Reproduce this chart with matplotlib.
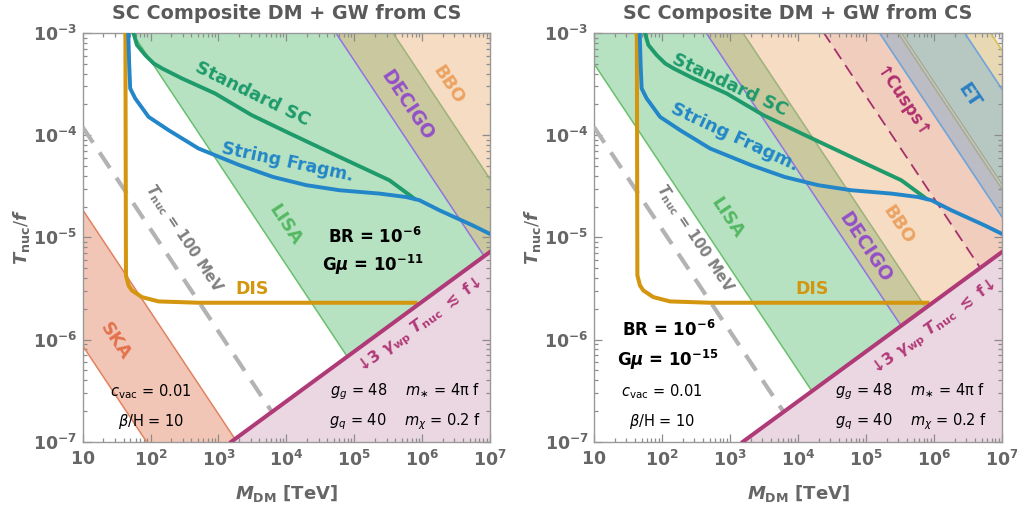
import numpy as np
import matplotlib
matplotlib.use("Agg")
import matplotlib.pyplot as plt
from matplotlib.ticker import FixedLocator, FixedFormatter, LogLocator, NullFormatter

plt.rcParams.update({
    "font.family": ["DejaVu Sans"],
    "mathtext.fontset": "custom",
    "mathtext.rm": "DejaVu Sans",
    "mathtext.it": "DejaVu Sans:italic:bold",
    "mathtext.bf": "DejaVu Sans:bold",
    "mathtext.sf": "DejaVu Sans:italic",
    "mathtext.default": "bf",
})

# ---------------- data ----------------
mass_ticks = [1e1, 1e2, 1e3, 1e4, 1e5, 1e6, 1e7]
mass_tick_labels = [r"$10$", r"$10^{2}$", r"$10^{3}$", r"$10^{4}$", r"$10^{5}$", r"$10^{6}$", r"$10^{7}$"]
temp_ticks = [1e-7, 1e-6, 1e-5, 1e-4, 1e-3]
temp_tick_labels = [r"$10^{-7}$", r"$10^{-6}$", r"$10^{-5}$", r"$10^{-4}$", r"$10^{-3}$"]

# relic-abundance curves: M_DM [TeV] vs T_nuc/f
string_M = [47, 48.4, 50.1, 59.4, 93.5, 184, 508, 2056, 6353, 1.97e4, 6.08e4, 2.36e5, 5.82e5, 9.12e5, 1.80e6, 5.54e6, 1.0e7]
string_T = [1e-3, 5.04e-4, 2.87e-4, 2.29e-4, 1.51e-4, 1.12e-4, 7.41e-5, 5.08e-5, 3.90e-5, 3.24e-5, 2.89e-5, 2.68e-5, 2.48e-5, 2.31e-5, 1.84e-5, 1.31e-5, 1.08e-5]
standard_M = [56, 63, 83.4, 111, 147, 288, 891, 3090, 1.12e4, 6.08e4, 3.30e5, 7.7e5]
standard_T = [1e-3, 7.63e-4, 6.08e-4, 5.04e-4, 4.51e-4, 3.60e-4, 2.56e-4, 1.57e-4, 1.04e-4, 6.12e-5, 3.62e-5, 2.39e-5]
dis_M = [42.6, 43.4, 47.4, 53.1, 74.5, 131, 508, 8.0e5]
dis_T = [1e-3, 4.24e-6, 3.38e-6, 3.02e-6, 2.60e-6, 2.36e-6, 2.29e-6, 2.29e-6]

# bound 3 gamma_wp T_nuc <~ f
wall_M = [1.55e3, 1e7]
wall_T = [1e-7, 7.2e-6]

# T_nuc = 100 MeV, as M_DM * T_nuc/f [TeV]
tnuc100_MT = 1.2e-3

# GW sensitivity bands, edges given as M_DM * T_nuc/f [TeV]
left_fills = [  # (lower edge, upper edge, colour)
    (8.7e-6, 1.86e-4, "#f2c6b6"),   # SKA
    (0.0537, 53.7, "#b6e2c2"),      # LISA
    (53.7, 372.0, "#cac89e"),       # DECIGO
    (372.0, np.inf, "#f6dcc2"),     # BBO
]
left_edges = [  # (edge, colour, width, style)
    (8.7e-6, "#e2825e", 1.1, "-"),
    (1.86e-4, "#e2825e", 1.1, "-"),
    (0.0537, "#6abf6e", 1.1, "-"),
    (53.7, "#9272e0", 1.1, "-"),
    (372.0, "#9db27a", 1.1, "-"),
]
right_fills = [
    (5.0e-3, 0.447, "#b6e2c2"),     # LISA
    (0.447, 1.55, "#cac89e"),       # DECIGO
    (1.55, 24.0, "#f6dcc2"),        # BBO
    (24.0, 158.0, "#f0cdbc"),       # cusps
    (158.0, 316.0, "#bcbdc4"),
    (316.0, 2818.0, "#b7c8c2"),     # ET
    (2818.0, 6761.0, "#e8d9b4"),
    (6761.0, np.inf, "#f4eeee"),
]
right_edges = [
    (5.0e-3, "#6abf6e", 1.1, "-"),
    (0.447, "#9272e0", 1.1, "-"),
    (1.55, "#9db27a", 1.1, "-"),
    (24.0, "#a5306b", 1.3, (0, (7, 4))),
    (158.0, "#6fa4d8", 1.2, "-"),
    (295.0, "#a9aa8e", 1.0, "-"),
    (331.0, "#a9aa8e", 1.0, "-"),
    (2818.0, "#6fa4d8", 1.2, "-"),
    (6761.0, "#d9c056", 1.2, "-"),
]

GREY_TXT = "#666666"
C_STD = "#1e9a6b"
C_STR = "#2286c8"
C_DIS = "#d4950f"
C_WALL = "#b03a78"

mgrid = np.logspace(1, 7, 1500)
floor = 10 ** np.interp(np.log10(mgrid), np.log10(wall_M), np.log10(wall_T), left=-8.0)


def band(ax, lo, hi, color):
    lower = np.maximum(lo / mgrid, floor)
    upper = np.full_like(mgrid, 1e-2) if np.isinf(hi) else hi / mgrid
    ax.fill_between(mgrid, lower, upper, where=upper > lower, interpolate=True,
                    color=color, lw=0, zorder=1)


def edge(ax, k, color, lw, ls, z=2):
    t = k / mgrid
    t = np.where(t >= floor, t, np.nan)
    ax.plot(mgrid, t, color=color, lw=lw, ls=ls, zorder=z)


def panel(ax, fills, edges, labels):
    for lo, hi, c in fills:
        band(ax, lo, hi, c)
    for k, c, lw, ls in edges:
        edge(ax, k, c, lw, ls)
    # excluded region below the wall-pressure bound
    ax.fill_between(mgrid, 1e-8, floor, color="#ead7e1", lw=0, zorder=1)
    # T_nuc = 100 MeV
    edge(ax, tnuc100_MT, "#b3b3b3", 3.0, (0, (4.5, 2.8)), z=3)

    ax.plot(dis_M, dis_T, color=C_DIS, lw=2.9, zorder=4, solid_joinstyle="round")
    ax.plot(standard_M, standard_T, color=C_STD, lw=2.8, zorder=5, solid_joinstyle="round")
    ax.plot(string_M, string_T, color=C_STR, lw=2.8, zorder=5, solid_joinstyle="round")
    ax.plot(wall_M, wall_T, color=C_WALL, lw=2.9, zorder=6)

    ax.set_xscale("log")
    ax.set_yscale("log")
    ax.set_xlim(10, 1e7)
    ax.set_ylim(1e-7, 1e-3)
    ax.xaxis.set_major_locator(FixedLocator(mass_ticks))
    ax.xaxis.set_major_formatter(FixedFormatter(mass_tick_labels))
    ax.yaxis.set_major_locator(FixedLocator(temp_ticks))
    ax.yaxis.set_major_formatter(FixedFormatter(temp_tick_labels))
    for axis in (ax.xaxis, ax.yaxis):
        axis.set_minor_locator(LogLocator(base=10, subs=np.arange(2, 10), numticks=100))
        axis.set_minor_formatter(NullFormatter())
    ax.tick_params(which="both", direction="in", top=True, right=True,
                   color="#8c8c8c", width=0.9, labelcolor=GREY_TXT, labelsize=12.5)
    ax.tick_params(which="major", length=6)
    ax.tick_params(which="minor", length=3)
    ax.tick_params(axis="x", pad=6)
    ax.tick_params(axis="y", pad=4)
    for s in ax.spines.values():
        s.set_color("#999999")
        s.set_linewidth(1.0)

    ax.set_title("SC Composite DM + GW from CS", fontsize=13.8, fontweight="bold",
                 color="#5a5a5a", pad=10)
    ax.set_xlabel(r"$\mathit{M}_{\mathbf{DM}}$ [TeV]", fontsize=13, fontweight="bold",
                  color=GREY_TXT)
    ax.xaxis.set_label_coords(0.5, -0.1)
    ax.set_ylabel(r"$\mathit{T}_{\mathbf{nuc}}\mathit{/f}$", fontsize=13, color=GREY_TXT)
    ax.yaxis.set_label_coords(-0.125, 0.5)

    for (txt, x, y, rot, c, fs, fw) in labels:
        ax.text(x, y, txt, transform=ax.transAxes, rotation=rot, rotation_mode="anchor",
                ha="center", va="center", color=c, fontsize=fs, fontweight=fw, zorder=8)


SLOPE = -56.3
pink_lbl = r"↓3 $\mathit{\gamma}_{\mathbf{wp}}$ $\mathit{T}_{\mathbf{nuc}}$ $\lesssim$ f↓"
tnuc_lbl = r"$\mathit{T}_{\mathbf{nuc}}$ = 100 MeV"
par1 = r"$\mathsf{c}_{\mathrm{vac}}$ = 0.01"
par2 = r"$\mathsf{\beta}$/H = 10"
par3 = r"$\mathsf{g}_{\mathsf{g}}$ = 48    $\mathsf{m}_{\mathrm{\ast}}$ = 4$\mathrm{\pi}$ f"
par4 = r"$\mathsf{g}_{\mathsf{q}}$ = 40    $\mathsf{m}_{\mathsf{\chi}}$ = 0.2 f"

left_labels = [
    ("Standard SC", 0.416, 0.851, -26, C_STD, 13, "bold"),
    ("String Fragm.", 0.502, 0.684, -12, C_STR, 12.5, "bold"),
    ("DECIGO", 0.796, 0.824, SLOPE, "#9350c8", 13.5, "bold"),
    ("BBO", 0.897, 0.873, SLOPE, "#eba262", 13, "bold"),
    ("LISA", 0.497, 0.530, SLOPE, "#55b862", 13, "bold"),
    (tnuc_lbl, 0.249, 0.498, SLOPE, "#808080", 10.5, "bold"),
    ("SKA", 0.079, 0.247, SLOPE, "#e2734e", 13, "bold"),
    ("DIS", 0.415, 0.374, 0, C_DIS, 12.5, "bold"),
    (r"BR = 10$^{-6}$", 0.718, 0.501, 0, "black", 12, "bold"),
    (r"G$\mathit{\mu}$ = 10$^{-11}$", 0.713, 0.432, 0, "black", 12, "bold"),
    (par1, 0.167, 0.122, 0, "black", 10.5, "normal"),
    (par2, 0.169, 0.049, 0, "black", 10.5, "normal"),
    (par3, 0.791, 0.122, 0, "black", 10.5, "normal"),
    (par4, 0.791, 0.049, 0, "black", 10.5, "normal"),
    (pink_lbl, 0.830, 0.284, 36, C_WALL, 11.5, "bold"),
]
right_labels = [
    ("Standard SC", 0.334, 0.873, -25, C_STD, 13, "bold"),
    ("String Fragm.", 0.344, 0.746, -25, C_STR, 13, "bold"),
    ("LISA", 0.326, 0.547, SLOPE, "#55b862", 13, "bold"),
    (tnuc_lbl, 0.248, 0.498, SLOPE, "#808080", 10.5, "bold"),
    ("DECIGO", 0.665, 0.476, SLOPE, "#9350c8", 13.5, "bold"),
    ("BBO", 0.746, 0.530, SLOPE, "#eba262", 13, "bold"),
    ("↑Cusps↑", 0.755, 0.829, SLOPE, "#b0306e", 12, "bold"),
    ("ET", 0.918, 0.848, SLOPE, "#2a80c2", 13.5, "bold"),
    ("DIS", 0.534, 0.374, 0, C_DIS, 12.5, "bold"),
    (r"BR = 10$^{-6}$", 0.182, 0.273, 0, "black", 12, "bold"),
    (r"G$\mathit{\mu}$ = 10$^{-15}$", 0.182, 0.200, 0, "black", 12, "bold"),
    (par1, 0.166, 0.122, 0, "black", 10.5, "normal"),
    (par2, 0.166, 0.049, 0, "black", 10.5, "normal"),
    (par3, 0.776, 0.122, 0, "black", 10.5, "normal"),
    (par4, 0.776, 0.049, 0, "black", 10.5, "normal"),
    (pink_lbl, 0.834, 0.278, 36, C_WALL, 11.5, "bold"),
]

fig = plt.figure(figsize=(10.17, 5.14), dpi=100)
ax1 = fig.add_axes([0.0813, 0.1407, 0.4005, 0.7951])
ax2 = fig.add_axes([0.5841, 0.1407, 0.4012, 0.7951])
panel(ax1, left_fills, left_edges, left_labels)
panel(ax2, right_fills, right_edges, right_labels)

fig.savefig("out.png", dpi=100, facecolor="white")
